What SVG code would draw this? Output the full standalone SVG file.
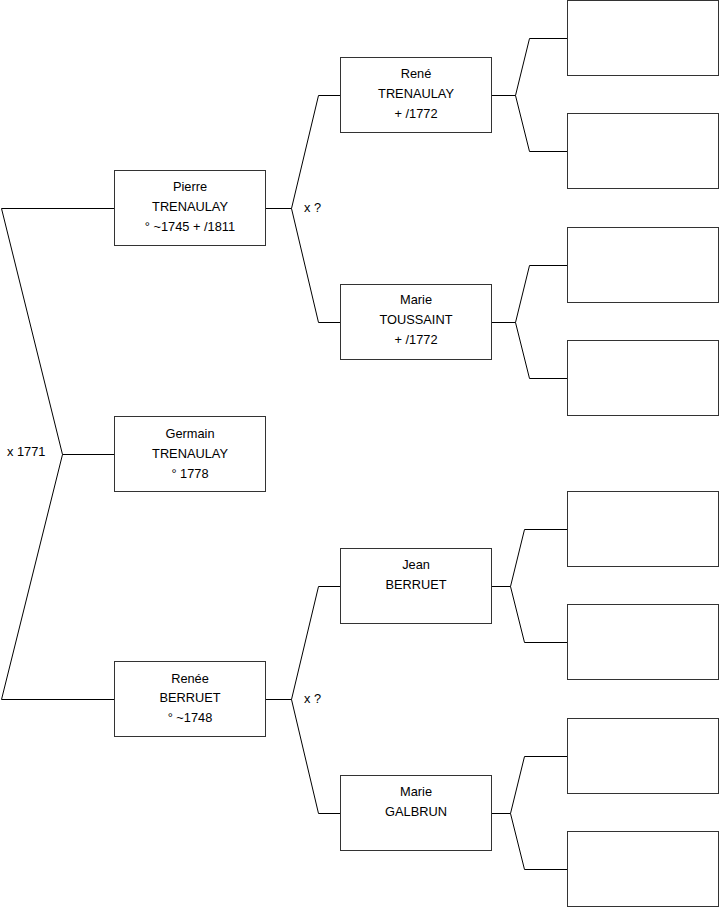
<svg xmlns="http://www.w3.org/2000/svg" width="719" height="908" viewBox="0 0 719 908">
<style>
.box{fill:#fff;stroke:#333;stroke-width:1}
.ln{fill:none;stroke:#000;stroke-width:1}
text{font-family:"Liberation Sans",Arial,sans-serif;font-size:12.8px;fill:#000}
.c{text-anchor:middle}
</style>
<rect width="719" height="908" fill="#fff"/>
<g id="connectors">
<polyline class="ln" points="114,208.5 1.5,208.5 62.5,454.5 1.5,699.5 114,699.5"/>
<line class="ln" x1="62.5" y1="454.5" x2="114" y2="454.5"/>
<text x="7" y="456">x 1771</text>
<polyline class="ln" points="340,95.5 318.5,95.5 291.5,208.5 318.5,322.5 340,322.5"/>
<line class="ln" x1="265" y1="208.5" x2="291.5" y2="208.5"/>
<text x="304" y="212">x ?</text>
<polyline class="ln" points="340,586.5 318.5,586.5 291.5,699.5 318.5,813.5 340,813.5"/>
<line class="ln" x1="265" y1="699.5" x2="291.5" y2="699.5"/>
<text x="304" y="703">x ?</text>
<polyline class="ln" points="567,38.5 529.5,38.5 515.5,95.5 529.5,151.5 567,151.5"/>
<line class="ln" x1="491" y1="95.5" x2="515.5" y2="95.5"/>
<polyline class="ln" points="567,265.5 529.5,265.5 515.5,322.5 529.5,378.5 567,378.5"/>
<line class="ln" x1="491" y1="322.5" x2="515.5" y2="322.5"/>
<polyline class="ln" points="567,529.5 524.5,529.5 510.5,586.5 524.5,642.5 567,642.5"/>
<line class="ln" x1="491" y1="586.5" x2="510.5" y2="586.5"/>
<polyline class="ln" points="567,756.5 524.5,756.5 510.5,813.5 524.5,869.5 567,869.5"/>
<line class="ln" x1="491" y1="813.5" x2="510.5" y2="813.5"/>
</g>
<g id="pierre"><rect class="box" x="114.5" y="170.5" width="151" height="75"/>
<text class="c" x="190" y="191">Pierre</text><text class="c" x="190" y="211">TRENAULAY</text><text class="c" x="190" y="231">° ~1745 + /1811</text></g>
<g id="germain"><rect class="box" x="114.5" y="416.5" width="151" height="75"/>
<text class="c" x="190" y="438">Germain</text><text class="c" x="190" y="458">TRENAULAY</text><text class="c" x="190" y="478">° 1778</text></g>
<g id="renee"><rect class="box" x="114.5" y="661.5" width="151" height="75"/>
<text class="c" x="190" y="683">Renée</text><text class="c" x="190" y="702">BERRUET</text><text class="c" x="190" y="722">° ~1748</text></g>
<g id="rene"><rect class="box" x="340.5" y="57.5" width="151" height="75"/>
<text class="c" x="416" y="78">René</text><text class="c" x="416" y="98">TRENAULAY</text><text class="c" x="416" y="118">+ /1772</text></g>
<g id="marie-toussaint"><rect class="box" x="340.5" y="284.5" width="151" height="75"/>
<text class="c" x="416" y="304">Marie</text><text class="c" x="416" y="324">TOUSSAINT</text><text class="c" x="416" y="344">+ /1772</text></g>
<g id="jean"><rect class="box" x="340.5" y="548.5" width="151" height="75"/>
<text class="c" x="416" y="569">Jean</text><text class="c" x="416" y="589">BERRUET</text></g>
<g id="marie-galbrun"><rect class="box" x="340.5" y="775.5" width="151" height="75"/>
<text class="c" x="416" y="796">Marie</text><text class="c" x="416" y="816">GALBRUN</text></g>
<g id="gp1"><rect class="box" x="567.5" y="0.5" width="151" height="75"/></g>
<g id="gp2"><rect class="box" x="567.5" y="113.5" width="151" height="75"/></g>
<g id="gp3"><rect class="box" x="567.5" y="227.5" width="151" height="75"/></g>
<g id="gp4"><rect class="box" x="567.5" y="340.5" width="151" height="75"/></g>
<g id="gp5"><rect class="box" x="567.5" y="491.5" width="151" height="75"/></g>
<g id="gp6"><rect class="box" x="567.5" y="604.5" width="151" height="75"/></g>
<g id="gp7"><rect class="box" x="567.5" y="718.5" width="151" height="75"/></g>
<g id="gp8"><rect class="box" x="567.5" y="831.5" width="151" height="75"/></g>
</svg>
